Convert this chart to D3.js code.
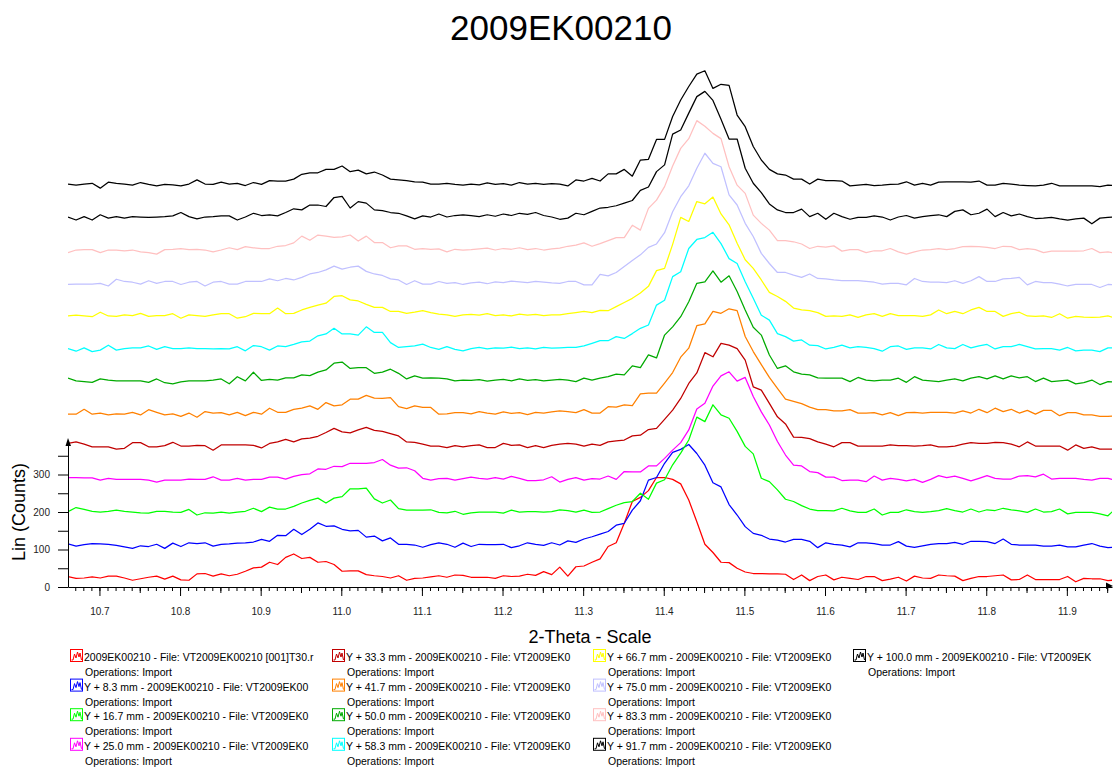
<!DOCTYPE html>
<html>
<head>
    <meta charset="utf-8">
    <script src="https://cdn.jsdelivr.net/npm/d3@7"></script>
    <style>
        body { margin: 0; background: #fff; }
        svg { display: block; font-family: "Liberation Sans", Arial, sans-serif; }
    </style>
</head>
<body>
    <script>
        // 2-theta grid of the scans (deg)
        var theta = [
            10.661,10.671,10.681,10.691,10.701,10.711,10.721,10.731,10.741,10.751,
            10.761,10.771,10.781,10.791,10.801,10.811,10.821,10.831,10.841,10.851,
            10.861,10.871,10.881,10.891,10.901,10.911,10.921,10.931,10.941,10.951,
            10.961,10.971,10.981,10.991,11.001,11.011,11.021,11.031,11.041,11.051,
            11.061,11.071,11.081,11.091,11.101,11.111,11.121,11.131,11.141,11.151,
            11.161,11.171,11.181,11.191,11.201,11.211,11.221,11.231,11.241,11.251,
            11.261,11.271,11.281,11.291,11.301,11.311,11.321,11.331,11.341,11.351,
            11.361,11.371,11.381,11.391,11.401,11.411,11.421,11.431,11.441,11.451,
            11.461,11.471,11.481,11.491,11.501,11.511,11.521,11.531,11.541,11.551,
            11.561,11.571,11.581,11.591,11.601,11.611,11.621,11.631,11.641,11.651,
            11.661,11.671,11.681,11.691,11.701,11.711,11.721,11.731,11.741,11.751,
            11.761,11.771,11.781,11.791,11.801,11.811,11.821,11.831,11.841,11.851,
            11.861,11.871,11.881,11.891,11.901,11.911,11.921,11.931,11.941,11.951,
            11.961
        ];

        // vertical shift of each scan (mm)
        var offsetsMm = [0, 8.3, 16.7, 25.0, 33.3, 41.7, 50.0, 58.3, 66.7, 75.0, 83.3, 91.7, 100.0];

        var colors = ['#ff0000', '#0000ff', '#00ff00', '#ff00ff', '#c00000', '#ff8000', '#00aa00',
                      '#00ffff', '#ffff00', '#c0c0ff', '#ffc0c0', '#000000', '#000000'];

        var legendLabels = [
            '2009EK00210 - File: VT2009EK00210 [001]T30.r',
            'Y + 8.3 mm - 2009EK00210 - File: VT2009EK00',
            'Y + 16.7 mm - 2009EK00210 - File: VT2009EK0',
            'Y + 25.0 mm - 2009EK00210 - File: VT2009EK0',
            'Y + 33.3 mm - 2009EK00210 - File: VT2009EK0',
            'Y + 41.7 mm - 2009EK00210 - File: VT2009EK0',
            'Y + 50.0 mm - 2009EK00210 - File: VT2009EK0',
            'Y + 58.3 mm - 2009EK00210 - File: VT2009EK0',
            'Y + 66.7 mm - 2009EK00210 - File: VT2009EK0',
            'Y + 75.0 mm - 2009EK00210 - File: VT2009EK0',
            'Y + 83.3 mm - 2009EK00210 - File: VT2009EK0',
            'Y + 91.7 mm - 2009EK00210 - File: VT2009EK0',
            'Y + 100.0 mm - 2009EK00210 - File: VT2009EK'
        ];

        // counts (Lin) per scan
        var scan0 = [28,23,24,27,24,29,29,24,18,22, 26,29,21,29,19,18,35,36,29,35, 30,34,42,51,53,66,60,79,88,76,
            79,66,68,60,42,43,43,33,30,28, 24,30,18,23,24,27,30,26,32,31, 26,26,26,23,30,28,29,34,31,41,
            33,53,29,54,56,66,75,108,118,170, 228,239,257,292,292,287,275,232,174,114, 92,66,65,50,40,36,36,35,35,34,
            20,32,17,28,32,19,26,23,20,28, 28,17,21,26,16,29,24,23,32,30, 29,17,23,28,28,30,32,19,20,32,
            20,20,20,20,28,14,23,22,22,17, 19];
        var scan1 = [28,22,26,29,28,27,24,20,16,23, 21,27,16,30,21,31,29,31,22,27, 28,30,31,33,40,35,51,50,67,53,
            67,84,75,76,67,63,64,46,49,36, 44,27,27,25,19,26,31,27,19,30, 21,27,26,26,27,18,23,31,27,24,
            31,25,36,32,41,47,54,61,78,83, 118,143,198,205,243,272,280,293,269,238, 191,180,133,105,74,56,51,41,38,33,
            40,40,35,18,31,27,25,20,31,31, 29,25,25,34,22,19,23,27,29,29, 32,27,35,35,34,29,41,27,25,25,
            25,22,22,25,20,20,25,29,22,18, 20];
        var scan2 = [26,37,32,27,25,27,30,27,25,23, 22,27,27,25,24,32,17,23,22,25, 22,25,27,35,26,38,33,33,40,49,
            56,62,49,62,66,87,87,89,60,49, 57,34,30,30,30,31,24,23,27,19, 23,25,25,25,22,30,25,26,26,25,
            26,31,29,25,30,24,25,34,43,50, 53,75,59,102,111,151,182,217,278,266, 311,284,275,240,200,180,115,106,84,59,
            53,42,33,29,29,28,35,28,24,24, 33,17,24,24,31,26,24,26,29,34, 29,25,33,25,31,29,35,31,28,24,
            33,25,26,33,20,24,24,24,20,15, 35];
        var scan3 = [30,30,29,29,23,28,25,25,25,25, 23,18,23,23,23,26,25,25,32,23, 23,28,23,25,25,31,31,26,33,38,
            40,53,52,60,59,68,68,68,70,78, 63,55,56,48,28,23,27,28,23,27, 31,28,26,30,26,33,28,22,22,24,
            32,18,25,30,23,27,26,34,25,46, 45,45,61,61,81,103,123,157,213,228, 274,301,312,287,297,246,205,170,126,90,
            63,61,46,43,31,31,22,23,23,19, 34,23,28,25,21,25,17,25,35,30, 34,28,21,28,35,28,26,26,34,35,
            32,39,26,28,28,28,25,23,28,28, 22];
        var scan4 = [34,38,32,25,25,25,19,21,36,36, 25,25,28,37,27,27,29,28,16,30, 30,30,30,29,22,34,38,45,38,46,
            48,53,63,74,65,62,70,77,69,66, 60,54,38,37,32,27,27,23,28,25, 28,30,23,23,34,29,30,23,28,23,
            29,32,34,32,27,32,29,38,41,43, 54,56,71,74,98,123,154,194,222,276, 265,301,296,287,256,185,176,141,105,86,
            51,50,47,38,32,25,36,36,27,27, 27,27,30,28,28,27,28,30,25,25, 27,32,36,34,34,37,36,32,25,38,
            27,27,27,27,16,30,21,25,19,19, 19];
        var scan5 = [24,24,37,24,27,22,25,24,29,22, 36,29,22,25,18,27,16,31,27,28, 22,29,20,29,24,40,29,29,37,40,
            46,37,55,46,49,64,64,74,67,66, 68,44,39,46,42,42,24,25,28,28, 25,31,27,24,30,26,28,23,29,27,
            30,33,31,28,36,27,27,44,43,49, 47,78,80,80,107,135,176,200,260,265, 298,293,305,300,231,191,156,122,93,64,
            58,52,43,36,36,33,33,36,27,27, 28,22,28,20,28,29,27,29,29,29, 27,33,27,37,28,40,31,37,27,34,
            24,34,34,20,28,28,22,22,18,18, 20];
        var scan6 = [33,26,24,22,31,28,26,26,26,26, 22,31,21,18,23,26,26,26,28,31, 18,37,26,49,27,30,28,34,34,42,
            40,49,55,73,76,59,61,61,46,49, 57,46,31,39,33,34,33,31,26,28, 27,29,25,28,30,26,31,27,29,26,
            28,30,28,24,33,28,33,37,44,42, 66,61,95,87,148,170,197,237,286,290, 319,289,306,264,215,169,148,95,59,66,
            50,44,42,34,33,33,33,24,35,28, 26,28,28,33,22,37,28,26,24,28, 31,26,33,37,31,39,31,39,34,37,
            24,33,24,26,28,18,21,28,16,24, 22];
        var scan7 = [25,18,27,17,21,34,21,25,27,27, 32,23,30,25,25,27,25,25,24,25, 24,30,19,33,30,21,32,30,36,43,
            45,59,64,79,64,64,61,83,68,68, 41,28,30,32,37,28,23,30,23,19, 25,28,24,27,26,29,25,27,24,28,
            26,27,28,28,32,39,46,46,57,52, 65,79,88,141,154,217,230,292,316,321, 335,305,265,252,203,159,114,101,65,57,
            45,48,34,33,24,28,34,27,30,28, 25,18,30,32,23,27,27,24,36,27, 25,36,27,32,36,24,30,30,36,30,
            24,25,25,21,28,19,21,21,17,27, 27];
        var scan8 = [24,26,24,22,34,24,23,27,25,31, 23,25,25,30,18,27,25,23,27,30, 30,18,22,31,30,30,45,30,31,40,
            47,53,58,76,78,67,64,55,47,47, 36,36,31,34,38,33,29,27,23,27, 28,26,30,25,27,24,29,26,28,25,
            27,27,30,33,36,33,39,38,49,60, 71,85,103,145,151,215,287,276,329,323, 341,296,267,218,174,151,120,87,76,63,
            45,40,38,33,23,24,23,27,20,27, 30,23,30,25,25,25,23,27,40,30, 36,30,40,47,36,36,23,30,34,24,
            23,24,20,30,18,23,21,20,21,24, 18];
        var scan9 = [21,22,22,22,24,17,35,29,27,22, 31,24,29,29,21,27,29,17,27,29, 22,22,29,29,29,36,31,37,33,40,
            49,53,60,70,62,67,70,56,49,45, 36,33,21,31,22,22,29,24,26,21, 25,27,23,28,26,30,28,26,29,27,
            25,24,29,29,20,20,48,44,53,69, 85,100,120,129,159,215,255,284,331,371, 344,335,260,233,184,149,104,77,53,53,
            46,40,49,37,36,33,31,31,31,29, 27,22,24,24,20,37,29,27,27,26, 31,24,31,42,29,29,36,37,40,20,
            29,26,26,22,17,21,21,21,13,21, 20];
        var scan10 = [19,26,27,27,19,26,26,24,26,21, 19,15,27,28,30,27,28,26,21,26, 32,27,35,32,30,30,36,38,45,63,
            52,66,63,60,61,66,50,63,46,46, 32,37,37,28,30,28,29,21,28,26, 27,29,31,26,30,28,32,27,30,26,
            29,31,36,39,45,36,43,51,59,59, 92,79,137,159,195,250,297,323,371,356, 337,323,248,199,177,119,97,79,51,51,
            48,42,30,36,34,37,23,27,27,19, 24,24,30,21,15,21,26,27,30,27, 30,35,36,35,33,30,36,35,27,30,
            27,19,23,23,23,23,24,30,19,21, 17];
        var scan11 = [26,18,27,18,32,23,27,23,27,26, 25,26,27,29,38,27,21,26,27,29, 29,18,26,36,30,32,29,38,48,45,
            58,58,54,78,81,50,67,63,45,43, 38,36,29,21,29,26,34,26,30,32, 30,27,32,28,34,30,36,33,38,30,
            26,20,23,36,32,41,50,52,56,63, 70,97,106,147,165,247,258,303,347,361, 337,287,234,234,156,116,91,61,45,38,
            38,47,27,36,20,36,27,20,25,25, 29,26,18,26,30,23,27,30,32,27, 41,45,32,36,47,27,38,29,34,27,
            22,23,25,21,18,21,23,8,23,25, 27];
        var scan12 = [27,24,27,29,16,32,29,27,24,31, 26,22,26,25,22,27,38,27,26,32, 27,29,23,31,26,36,35,35,40,53,
            57,57,66,66,75,60,64,54,59,51, 40,38,36,33,32,27,27,29,26,24, 27,25,30,26,28,24,31,27,29,26,
            28,27,22,38,35,42,35,54,54,66, 48,91,93,146,146,207,251,287,320,329, 282,293,290,211,180,127,91,66,54,51,
            40,40,27,40,36,36,35,22,24,26, 23,24,26,27,33,24,29,24,32,33, 33,33,32,35,24,24,29,27,24,23,
            22,24,29,22,22,22,22,22,20,24, 23];

        var scans = [scan0, scan1, scan2, scan3, scan4, scan5, scan6, scan7, scan8, scan9, scan10, scan11, scan12];

        var xTickLabels = [10.7, 10.8, 10.9, 11.0, 11.1, 11.2, 11.3, 11.4, 11.5, 11.6, 11.7, 11.8, 11.9];
        var yTickLabels = [0, 100, 200, 300];

        var width = 1113, height = 767;
        var plotLeft = 68, plotRight = 1112, plotBottom = 587;

        var svg = d3.select('body').append('svg')
            .attr('width', width)
            .attr('height', height);

        var x = d3.scaleLinear().domain([10.661, 11.956]).range([plotLeft, plotRight]);
        var y = d3.scaleLinear().domain([0, 390]).range([plotBottom, 440.75]);
        // mm shift expressed in counts on the Lin axis
        var shift = d3.scaleLinear().domain([0, 100]).range([0, 1047.6]);

        svg.append('defs').append('clipPath').attr('id', 'plotclip')
            .append('rect')
            .attr('x', plotLeft).attr('y', 0)
            .attr('width', plotRight - plotLeft).attr('height', plotBottom);

        // title
        svg.append('text')
            .attr('x', 561).attr('y', 40)
            .attr('text-anchor', 'middle')
            .style('font-size', '35px')
            .text('2009EK00210');

        // scans
        var line = d3.line()
            .x(function (d) { return x(d[0]); })
            .y(function (d) { return y(d[1]); });

        var lines = svg.append('g').attr('clip-path', 'url(#plotclip)');
        scans.forEach(function (counts, i) {
            var off = shift(offsetsMm[i]);
            var pts = counts.map(function (c, j) { return [theta[j], c + off]; });
            lines.append('path')
                .datum(pts)
                .attr('fill', 'none')
                .attr('stroke', colors[i])
                .attr('stroke-width', 1.25)
                .attr('stroke-linejoin', 'round')
                .attr('d', line);
        });

        // x axis: minor / mid / major ticks
        var minorTicks = d3.range(1067, 1196).map(function (k) { return k / 100; });
        var midTicks = d3.range(1075, 1196, 10).map(function (k) { return k / 100; });

        var xg = svg.append('g').attr('transform', 'translate(0,' + plotBottom + ')');
        xg.append('g').call(d3.axisBottom(x).tickValues(minorTicks).tickSize(4).tickFormat(''))
            .call(function (g) { g.select('.domain').remove(); });
        xg.append('g').call(d3.axisBottom(x).tickValues(midTicks).tickSize(6).tickFormat(''))
            .call(function (g) { g.select('.domain').remove(); });
        xg.append('g').call(d3.axisBottom(x).tickValues(xTickLabels).tickSize(9).tickSizeOuter(0)
                .tickPadding(12).tickFormat(d3.format('.1f')));
        xg.selectAll('text').style('font-size', '10px').attr('fill', '#222').style('font-family', '"Liberation Sans", Arial, sans-serif');
        xg.selectAll('line, path').attr('stroke', '#000');

        // arrow on x axis
        svg.append('path')
            .attr('d', 'M1113,586 L1106,582.5 L1106,589 Z')
            .attr('fill', '#000');

        // y axis
        var yg = svg.append('g').attr('transform', 'translate(' + plotLeft + ',0)');
        yg.call(d3.axisLeft(y).tickValues(d3.range(0, 400, 50)).tickSize(10).tickSizeOuter(0)
            .tickPadding(8)
            .tickFormat(function (d) { return yTickLabels.indexOf(d) >= 0 ? d : ''; }));
        yg.selectAll('text').style('font-size', '10px').attr('fill', '#222').style('font-family', '"Liberation Sans", Arial, sans-serif');
        yg.selectAll('line, path').attr('stroke', '#000');

        svg.append('path')
            .attr('d', 'M68,438 L65.5,446 L71,446 Z')
            .attr('fill', '#000');

        // axis titles
        svg.append('text')
            .attr('transform', 'translate(25,512) rotate(-90)')
            .attr('text-anchor', 'middle')
            .style('font-size', '18px')
            .text('Lin (Counts)');

        svg.append('text')
            .attr('x', 590).attr('y', 643)
            .attr('text-anchor', 'middle')
            .style('font-size', '18px')
            .text('2-Theta - Scale');

        // legend
        var colX = [70, 332, 593, 853];
        var legend = svg.append('g');
        legendLabels.forEach(function (label, i) {
            var cx = colX[Math.floor(i / 4)];
            var by = 661 + (i % 4) * 29.6;
            var g = legend.append('g').attr('transform', 'translate(' + cx + ',' + by + ')');
            g.append('rect')
                .attr('x', 0.5).attr('y', -11.5)
                .attr('width', 12).attr('height', 12)
                .attr('fill', '#fff')
                .attr('stroke', colors[i]);
            g.append('path')
                .attr('d', 'M1.5,-1 L3,-1 L4.5,-7 L6,-3 L7.5,-9 L9,-4 L10,-8 L11.5,-1')
                .attr('fill', 'none')
                .attr('stroke', colors[i]);
            g.append('text')
                .attr('x', 14).attr('y', 0)
                .style('font-size', '10.5px')
                .text(label);
            g.append('text')
                .attr('x', 15).attr('y', 15)
                .style('font-size', '10.5px')
                .text('Operations: Import');
        });
    </script>
</body>
</html>
